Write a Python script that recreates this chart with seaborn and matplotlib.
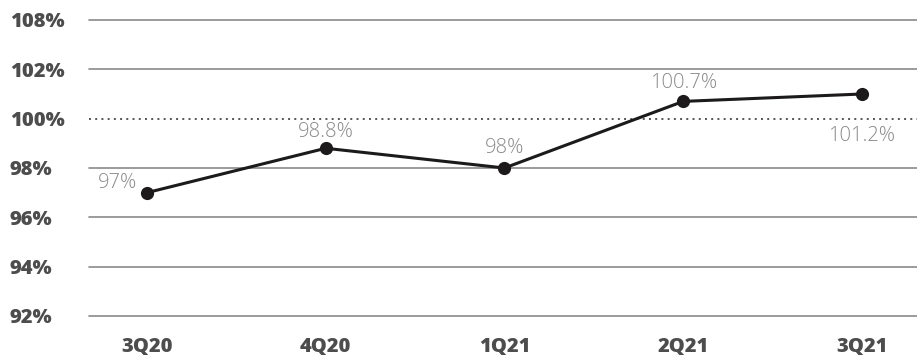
import matplotlib
matplotlib.use("Agg")
import matplotlib.pyplot as plt
import seaborn as sns
import pandas as pd

quarters = ["3Q20", "4Q20", "1Q21", "2Q21", "3Q21"]
values = [97.0, 98.8, 98.0, 100.7, 101.0]
point_labels = ["97%", "98.8%", "98%", "100.7%", "101.2%"]
ytick_values = [92, 94, 96, 98, 100, 102, 104]
ytick_labels = ["92%", "94%", "96%", "98%", "100%", "102%", "108%"]

sns.set_theme(style="white")
plt.rcParams["font.family"] = ["Open Sans", "DejaVu Sans"]

df = pd.DataFrame({"quarter": quarters, "value": values, "x": range(len(quarters))})

fig = plt.figure(figsize=(9.17, 3.57), dpi=100)
ax = fig.add_axes([89 / 917, 1 - 316 / 357, 1 - 89 / 917, (316 - 20) / 357])

for v in ytick_values:
    if v == 100:
        ax.axhline(v, color="#555555", lw=1.4, ls=(0, (1, 2.2)), zorder=1)
    else:
        ax.axhline(v, color="#8a8a8a", lw=1.2, zorder=1, clip_on=False)

sns.lineplot(data=df, x="x", y="value", ax=ax, color="#1c1a1b", lw=2.2,
             marker="o", markersize=9.5, markeredgewidth=0, zorder=3)

offsets = [(-21, 7), (0, 12), (0, 14.5), (0, 13.5), (0, -30)]
for xi, v, lab, (dx, dy) in zip(df["x"], values, point_labels, offsets):
    ax.annotate(lab, (xi, v), xytext=(dx, dy), textcoords="offset points",
                ha="center", va="center", fontsize=14.5, color="#8a8a8a",
                fontweight=300)

ax.set_xlim(-0.324, 4.308)
ax.set_ylim(92, 104)
ax.set_yticks(ytick_values)
ax.set_yticklabels(ytick_labels, fontsize=14.5, fontweight=800, color="#4d4d4d", ha="left")
ax.set_xticks(range(len(quarters)))
ax.set_xticklabels(quarters, fontsize=14.5, fontweight=800, color="#4d4d4d")
ax.tick_params(axis="y", length=0, pad=57)
ax.tick_params(axis="x", length=0, pad=15)
ax.set_xlabel("")
ax.set_ylabel("")
for s in ax.spines.values():
    s.set_visible(False)

fig.savefig("out.png", dpi=100)
